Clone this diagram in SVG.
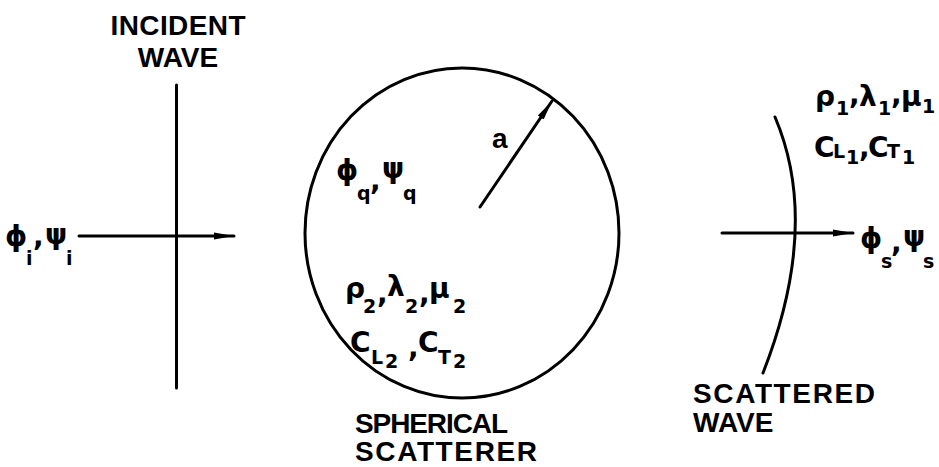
<svg xmlns="http://www.w3.org/2000/svg" width="939" height="467" viewBox="0 0 939 467">
<style>
.ln{stroke:#000;stroke-width:3;fill:none;stroke-linecap:round}
.lbl{font-family:"Liberation Sans","DejaVu Sans",sans-serif;font-weight:bold;fill:#000;font-size:28px}
.gk{font-family:"DejaVu Sans","Liberation Sans",sans-serif;font-weight:bold;fill:#000;font-size:28px}
.sb{font-size:19px}
</style>
<defs>
<marker id="ah" viewBox="0 0 20 10" refX="20" refY="5" markerWidth="20" markerHeight="10" markerUnits="userSpaceOnUse" orient="auto">
<path d="M0,1.5 L20,5 L0,8.5 Z" fill="#000"/>
</marker>
</defs>
<rect width="939" height="467" fill="#fff"/>
<g id="connectors">
<line class="ln" x1="79" y1="236" x2="234" y2="236" marker-end="url(#ah)"/>
<line class="ln" x1="722" y1="233" x2="853" y2="233" marker-end="url(#ah)"/>
<line class="ln" x1="480" y1="207" x2="552" y2="101" marker-end="url(#ah)"/>
</g>
<g id="incident-wave">
<line class="ln" x1="176.5" y1="85" x2="176.5" y2="388"/>
<text class="lbl" x="178" y="35" text-anchor="middle" textLength="135">INCIDENT</text>
<text class="lbl" x="178" y="67" text-anchor="middle">WAVE</text>
<text class="gk"><tspan x="5" y="246">ϕ</tspan><tspan class="sb" x="26" y="265">i</tspan><tspan x="33" y="246">,</tspan><tspan x="45" y="244">ψ</tspan><tspan class="sb" x="66" y="265">i</tspan></text>
</g>
<g id="spherical-scatterer">
<ellipse class="ln" cx="462" cy="233" rx="157" ry="165"/>
<text class="lbl" x="355" y="433" textLength="153">SPHERICAL</text>
<text class="lbl" x="355" y="461" textLength="182">SCATTERER</text>
<text class="lbl" x="492" y="148" font-size="32">a</text>
<text class="gk"><tspan x="336" y="180">ϕ</tspan><tspan class="sb" x="357" y="200">q</tspan><tspan x="370" y="190">,</tspan><tspan x="382" y="178">ψ</tspan><tspan class="sb" x="403" y="200">q</tspan></text>
<text class="gk"><tspan x="345" y="298">ρ</tspan><tspan class="sb" x="363" y="313">2</tspan><tspan x="377" y="303">,</tspan><tspan x="387" y="296">λ</tspan><tspan class="sb" x="405" y="313">2</tspan><tspan x="419" y="303">,</tspan><tspan x="429" y="298">μ</tspan><tspan class="sb" x="453" y="313">2</tspan></text>
<text class="gk"><tspan x="350" y="352">C</tspan><tspan class="sb" x="371" y="364">L</tspan><tspan class="sb" x="385" y="368">2</tspan><tspan x="408" y="357">,</tspan><tspan x="418" y="352">C</tspan><tspan class="sb" x="438" y="364">T</tspan><tspan class="sb" x="453" y="368">2</tspan></text>
</g>
<g id="scattered-wave">
<path class="ln" d="M775,117 Q821,225 763,373"/>
<text class="lbl" x="693" y="403" textLength="182">SCATTERED</text>
<text class="lbl" x="693" y="432">WAVE</text>
<text class="gk"><tspan x="815" y="106">ρ</tspan><tspan class="sb" x="836" y="115">1</tspan><tspan x="849" y="104">,</tspan><tspan x="859" y="106">λ</tspan><tspan class="sb" x="878" y="115">1</tspan><tspan x="891" y="104">,</tspan><tspan x="901" y="106">μ</tspan><tspan class="sb" x="922" y="113">1</tspan></text>
<text class="gk" font-size="26"><tspan x="814" y="157">C</tspan><tspan class="sb" x="833" y="158">L</tspan><tspan class="sb" x="846" y="164">1</tspan><tspan x="859" y="157">,</tspan><tspan x="868" y="157">C</tspan><tspan class="sb" x="887" y="158">T</tspan><tspan class="sb" x="902" y="164">1</tspan></text>
<text class="gk"><tspan x="860" y="248">ϕ</tspan><tspan class="sb" x="881" y="268">s</tspan><tspan x="891" y="252">,</tspan><tspan x="903" y="246">ψ</tspan><tspan class="sb" x="923" y="268">s</tspan></text>
</g>
</svg>
